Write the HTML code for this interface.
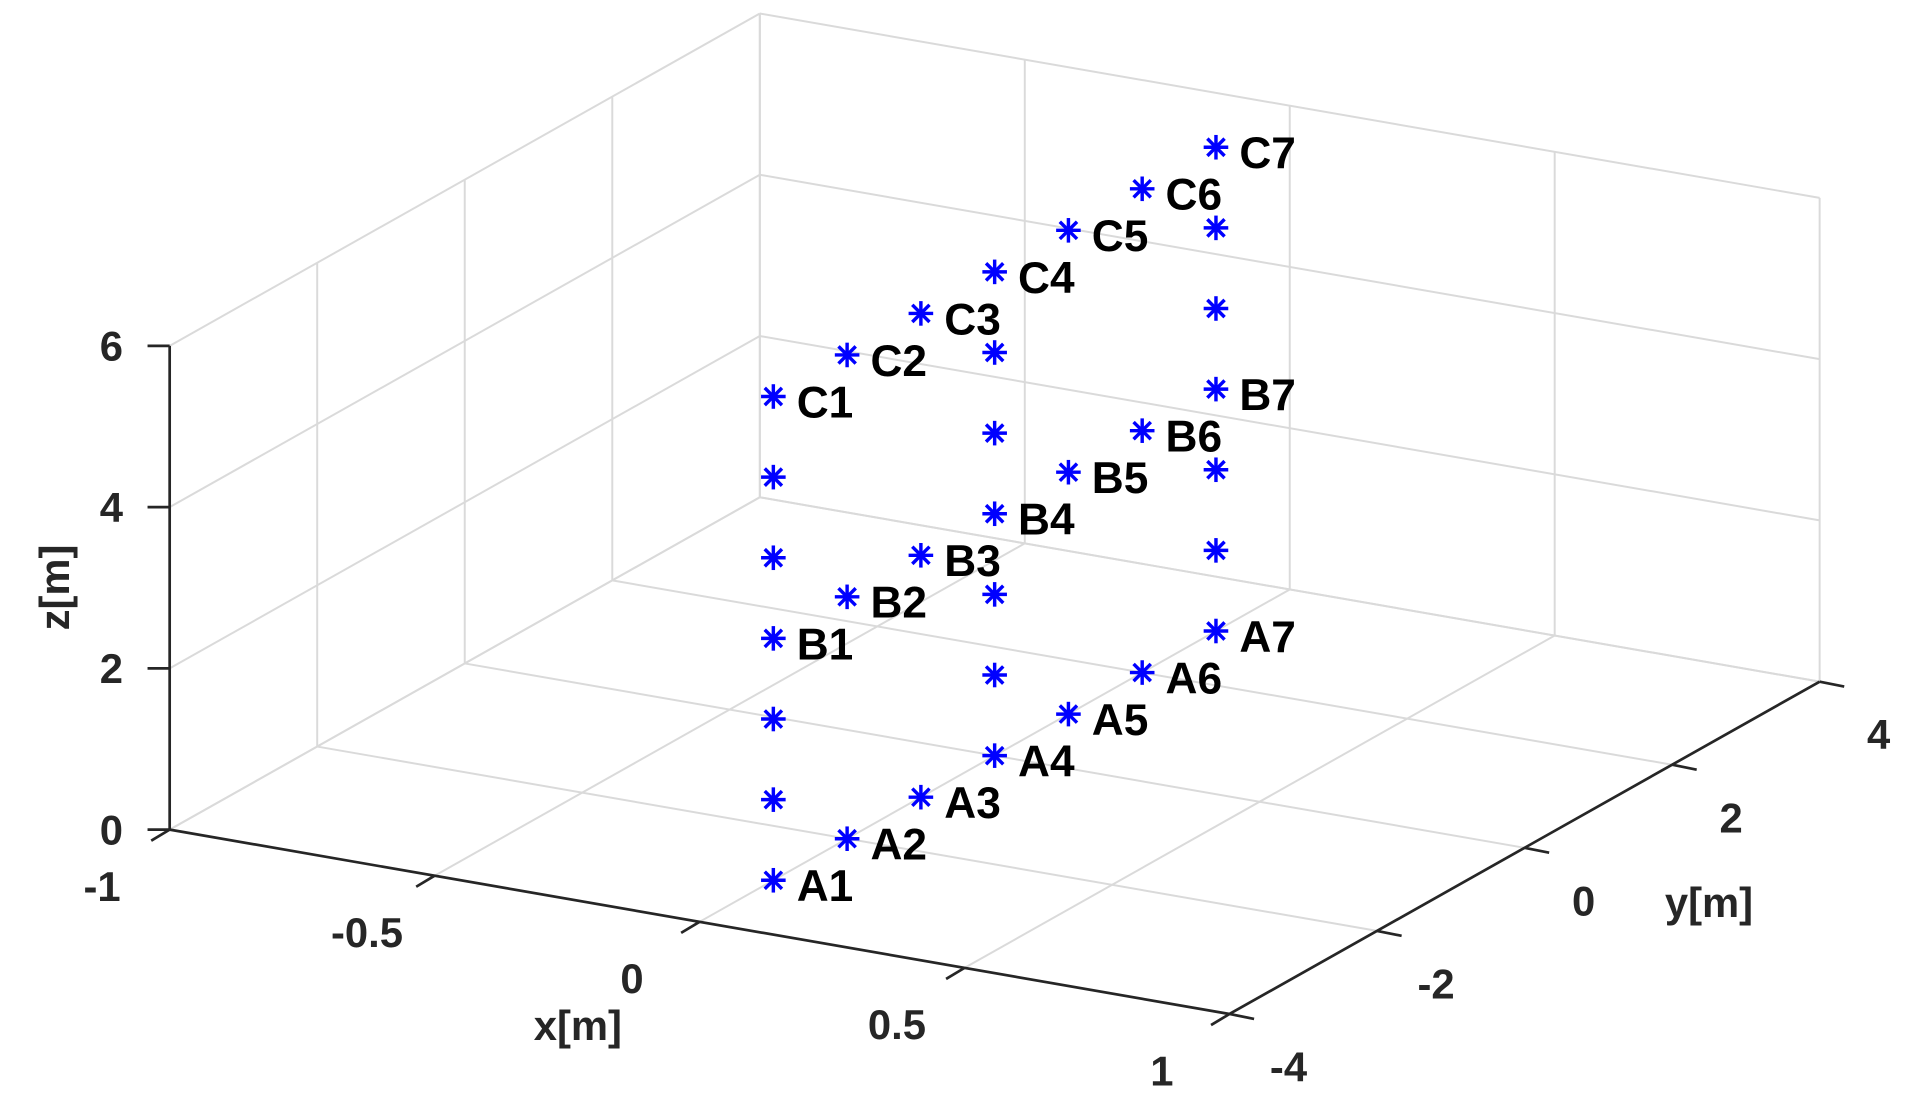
<!DOCTYPE html>
<html><head><meta charset="utf-8"><style>
html,body{margin:0;padding:0;background:#fff;}
svg{display:block;}
text{font-family:"Liberation Sans",Arial,sans-serif;font-weight:bold;fill:#262626;}
</style></head><body>
<svg id="chart" width="1918" height="1116" viewBox="0 0 1560 908" preserveAspectRatio="none" xmlns="http://www.w3.org/2000/svg">
<g id="grid"></g>
<g id="axes"></g>
<g id="points"></g>
</svg>
<script>
// data
const rowYs = [-3,-2,-1,0,1,2,3];
const rowZs = [0,3,6];
const rowNames = ['A','B','C'];
const colYs = [-3,0,3];
const colZs = [0,1,2,3,4,5,6];
const pointX = 0;
const xTicks = [-1,-0.5,0,0.5,1];
const xTickLabels = ['-1','-0.5','0','0.5','1'];
const yTicks = [-4,-2,0,2,4];
const yTickLabels = ['-4','-2','0','2','4'];
const zTicks = [0,2,4,6];
const zTickLabels = ['0','2','4','6'];

const NS='http://www.w3.org/2000/svg';
function P(x,y,z){
  return [138 + (x+1)*431 + (y+4)*60, 675 + (x+1)*75 - (y+4)*33.8 - z*65.6];
}
function line(g,a,b,stroke,w,name){
  const l=document.createElementNS(NS,'line');
  l.setAttribute('x1',a[0]);l.setAttribute('y1',a[1]);
  l.setAttribute('x2',b[0]);l.setAttribute('y2',b[1]);
  l.setAttribute('stroke',stroke);l.setAttribute('stroke-width',w);
  
  
  g.appendChild(l);return l;
}
function text(g,x,y,s,name,anchor,size,fill){
  const t=document.createElementNS(NS,'text');
  t.setAttribute('x',x);t.setAttribute('y',y);
  t.setAttribute('font-size',size||34);
  if(anchor)t.setAttribute('text-anchor',anchor);
  if(fill)t.setAttribute('style','fill:'+fill);
  t.textContent=s;
  
  
  g.appendChild(t);return t;
}
const grid=document.getElementById('grid');
const axes=document.getElementById('axes');
const pts=document.getElementById('points');
const gc='#dadada';
yTicks.forEach(y=>line(grid,P(-1,y,0),P(1,y,0),gc,1.6,'floor-grid-line'));
xTicks.forEach(x=>line(grid,P(x,-4,0),P(x,4,0),gc,1.6,'floor-grid-line'));
xTicks.forEach(x=>line(grid,P(x,4,0),P(x,4,6),gc,1.6,'back-wall-grid-line'));
zTicks.forEach(z=>line(grid,P(-1,4,z),P(1,4,z),gc,1.6,'back-wall-grid-line'));
yTicks.forEach(y=>line(grid,P(-1,y,0),P(-1,y,6),gc,1.6,'left-wall-grid-line'));
zTicks.forEach(z=>line(grid,P(-1,-4,z),P(-1,4,z),gc,1.6,'left-wall-grid-line'));

const ac='#262626';
line(axes,P(-1,-4,0),P(-1,-4,6),ac,2.2,'z-axis-line');
line(axes,P(-1,-4,0),P(1,-4,0),ac,2.2,'x-axis-line');
line(axes,P(1,-4,0),P(1,4,0),ac,2.2,'y-axis-line');
zTicks.forEach((z,i)=>{
  const p=P(-1,-4,z);
  line(axes,[p[0]-18,p[1]],p,ac,2.2,'z-tick');
  text(axes,p[0]-38,p[1]+12,zTickLabels[i],'z-tick-label','end');
});
xTicks.forEach((x,i)=>{
  const p=P(x,-4,0);
  line(axes,p,[p[0]-15,p[1]+9],ac,2.2,'x-tick');
  text(axes,p[0]-55,p[1]+58,xTickLabels[i],'x-tick-label','middle');
});
yTicks.forEach((y,i)=>{
  const p=P(1,y,0);
  line(axes,p,[p[0]+20,p[1]+4],ac,2.2,'y-tick');
  text(axes,p[0]+48,p[1]+55,yTickLabels[i],'y-tick-label','middle');
});
text(axes,470,846,'x[m]','x-axis-title','middle');
text(axes,1390,746,'y[m]','y-axis-title','middle');
const zl=text(axes,0,0,'z[m]','z-axis-title','middle');
zl.setAttribute('transform','translate(56,478) rotate(-90)');

function star(p,name){
  const g=document.createElementNS(NS,'g');
  
  
  const r=10,d=7,c='#0000ff';
  line(g,[p[0],p[1]-r],[p[0],p[1]+r],c,2.8,'marker-stroke');
  line(g,[p[0]-r,p[1]],[p[0]+r,p[1]],c,2.8,'marker-stroke');
  line(g,[p[0]-d,p[1]-d],[p[0]+d,p[1]+d],c,2.8,'marker-stroke');
  line(g,[p[0]-d,p[1]+d],[p[0]+d,p[1]-d],c,2.8,'marker-stroke');
  pts.appendChild(g);
}
const labeled=new Set();
rowZs.forEach((z,ri)=>{
  rowYs.forEach((y,i)=>{
    const p=P(pointX,y,z);
    star(p,'point-'+rowNames[ri]+(i+1));
    labeled.add(y+','+z);
    text(pts,p[0]+19,p[1]+17,rowNames[ri]+(i+1),'point-label','start',36,'#000');
  });
});
colYs.forEach(y=>colZs.forEach(z=>{
  if(labeled.has(y+','+z))return;
  star(P(pointX,y,z),'column-point');
}));
</script>
</body></html>
